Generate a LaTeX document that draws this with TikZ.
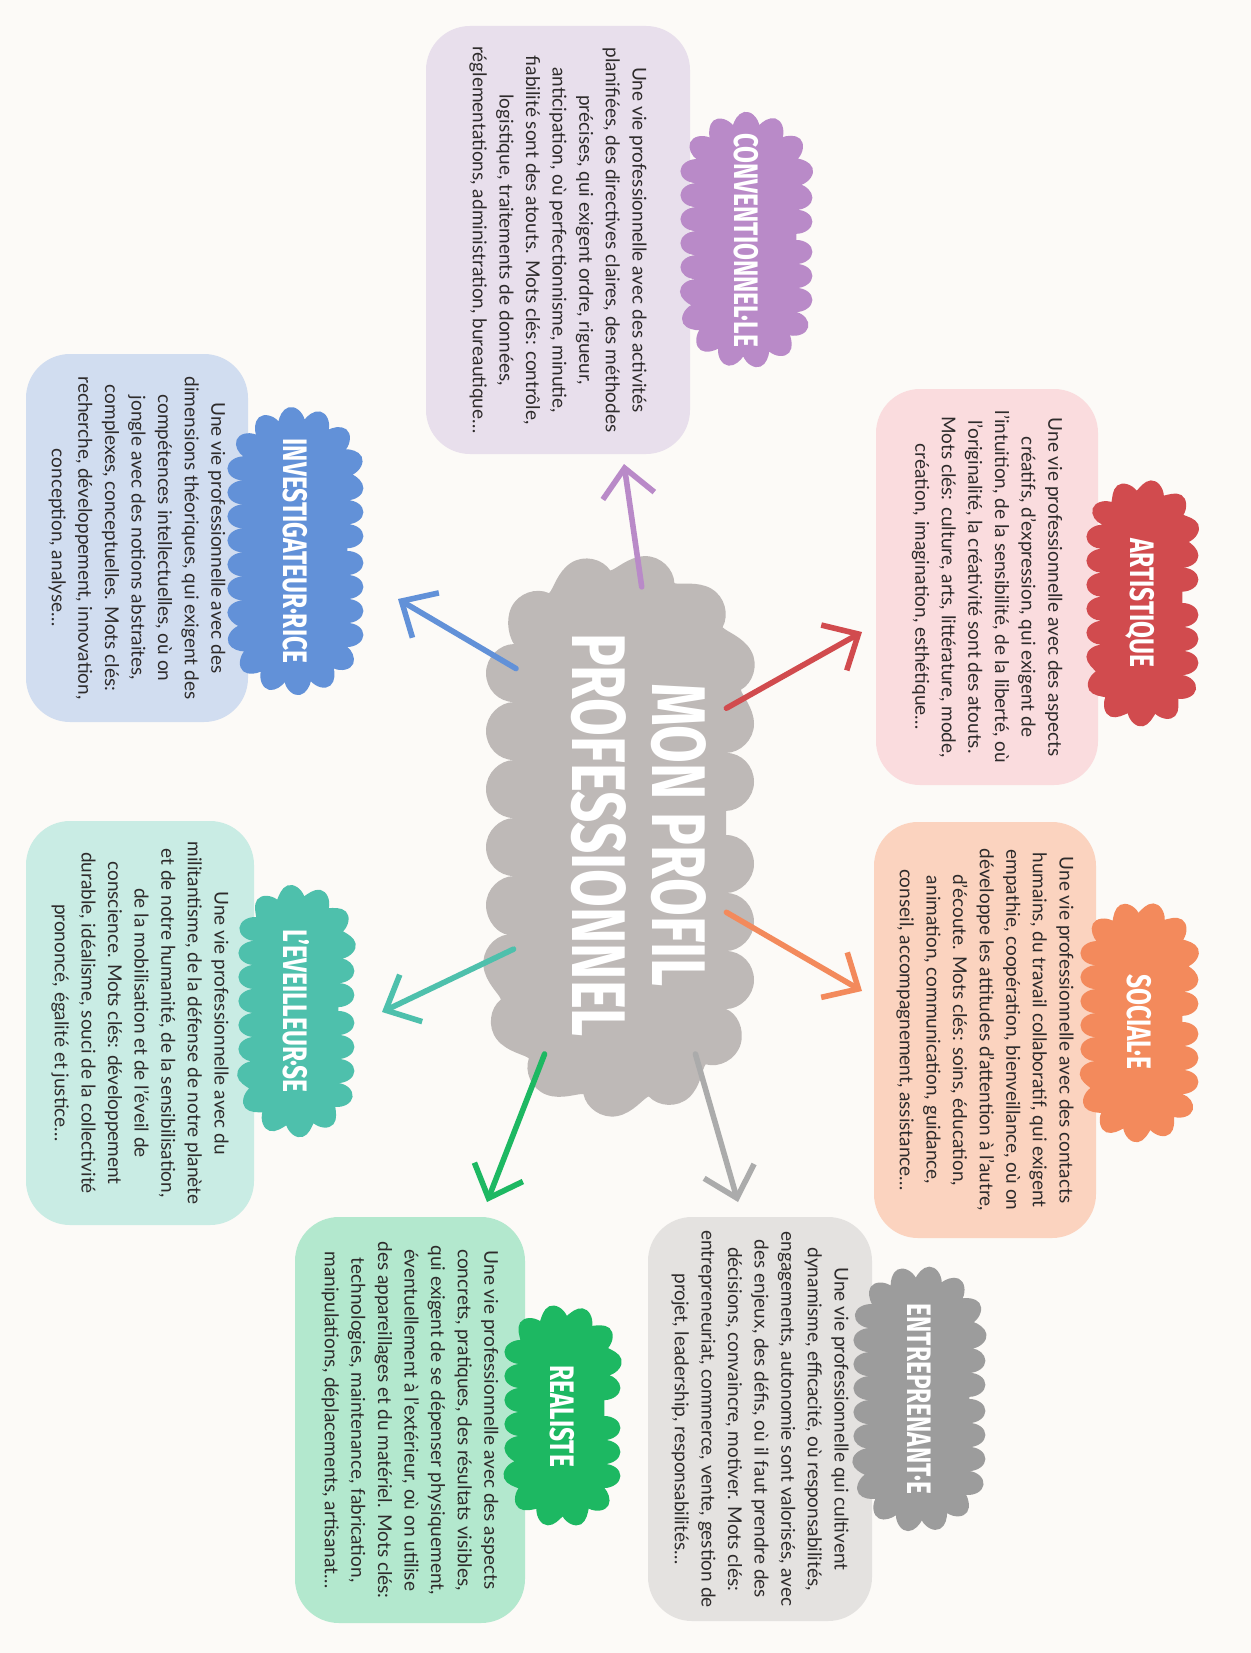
\documentclass[tikz,border=0pt]{standalone}
\usepackage{fontspec}
\setmainfont{Lato}
\newfontfamily\headfont[FakeStretch=0.72]{Fira Sans}
\usetikzlibrary{arrows.meta,calc,shapes.misc,decorations.pathmorphing}

\definecolor{paper}{HTML}{FCFAF7}
\definecolor{ink}{HTML}{2E2B2B}
\definecolor{midcol}{HTML}{BEB9B7}
\definecolor{convbg}{HTML}{E8DFEC}\definecolor{convcol}{HTML}{B98AC8}
\definecolor{artbg}{HTML}{FADCDE}\definecolor{artcol}{HTML}{D14B4E}
\definecolor{socbg}{HTML}{FBD3BF}\definecolor{soccol}{HTML}{F38A5C}
\definecolor{entbg}{HTML}{E4E2E0}\definecolor{entcol}{HTML}{9C9C9C}
\definecolor{realbg}{HTML}{B3E8CE}\definecolor{realcol}{HTML}{1DB862}
\definecolor{eveilbg}{HTML}{C9ECE4}\definecolor{eveilcol}{HTML}{4EC0AC}
\definecolor{invbg}{HTML}{D1DDF0}\definecolor{invcol}{HTML}{6291D8}

\newcommand{\tagtext}[1]{\smash{\makebox[0pt]{\raisebox{-.5\height}{#1}}}}

\tikzset{>={Straight Barb[length=14pt,width=26pt]}, arr/.style={->, line width=2.8pt, line cap=round, line join=round},
desc/.style={rounded corners=22pt, align=center, text=ink, inner sep=0pt, font=\fontsize{9.5}{13.3}\selectfont},
tag/.style={rounded rectangle, inner sep=1pt, text=white, decorate, decoration={bumps, segment length=24pt, amplitude=8pt},
  font=\headfont\bfseries\fontsize{17}{17}\selectfont}}

\begin{document}
\begin{tikzpicture}[x=0.5pt, y=0.5pt, rotate=-90, transform shape]
\useasboundingbox[fill=paper] (0,0) rectangle (1653,1251);

% description boxes
\node[desc, fill=convbg, minimum width=214pt, minimum height=132pt] (conv) at (240,558)
  {Une vie professionnelle avec des activités\\planifiées, des directives claires, des méthodes\\précises, qui exigent ordre, rigueur,\\anticipation, où perfectionnisme, minutie,\\fiabilité sont des atouts. Mots clés: contrôle,\\logistique, traitements de données,\\réglementations, administration, bureautique…};
\node[desc, fill=artbg, minimum width=198pt, minimum height=111pt] (art) at (587,987)
  {Une vie professionnelle avec des aspects\\créatifs, d’expression, qui exigent de\\l’intuition, de la sensibilité, de la liberté, où\\l’originalité, la créativité sont des atouts.\\Mots clés: culture, arts, littérature, mode,\\création, imagination, esthétique…};
\node[desc, fill=socbg, minimum width=208pt, minimum height=111pt] (soc) at (1030,985)
  {Une vie professionnelle avec des contacts\\humains, du travail collaboratif, qui exigent\\empathie, coopération, bienveillance, où on\\développe les attitudes d’attention à l’autre,\\d’écoute. Mots clés: soins, éducation,\\animation, communication, guidance,\\conseil, accompagnement, assistance…};
\node[desc, fill=entbg, minimum width=202pt, minimum height=112pt] (ent) at (1419,760)
  {Une vie professionnelle qui cultivent\\dynamisme, efficacité, où responsabilités,\\engagements, autonomie sont valorisés, avec\\des enjeux, des défis, où il faut prendre des\\décisions, convaincre, motiver. Mots clés:\\entrepreneuriat, commerce, vente, gestion de\\projet, leadership, responsabilités…};
\node[desc, fill=realbg, minimum width=203pt, minimum height=115pt] (real) at (1420,410)
  {Une vie professionnelle avec des aspects\\concrets, pratiques, des résultats visibles,\\qui exigent de se dépenser physiquement,\\éventuellement à l’extérieur, où on utilise\\des appareillages et du matériel. Mots clés:\\technologies, maintenance, fabrication,\\manipulations, déplacements, artisanat…};
\node[desc, fill=eveilbg, minimum width=202pt, minimum height=114pt] (eveil) at (1023,140)
  {Une vie professionnelle avec du\\militantisme, de la défense de notre planète\\et de notre humanité, de la sensibilisation,\\de la mobilisation et de l’éveil de\\conscience. Mots clés: développement\\durable, idéalisme, souci de la collectivité\\prononcé, égalité et justice…};
\node[desc, fill=invbg, minimum width=184pt, minimum height=111pt] (inv) at (538,137)
  {Une vie professionnelle avec des\\dimensions théoriques, qui exigent des\\compétences intellectuelles, où on\\jongle avec des notions abstraites,\\complexes, conceptuelles. Mots clés:\\recherche, développement, innovation,\\conception, analyse…};

% title clouds
\node[tag, fill=convcol, minimum width=113pt, minimum height=50pt] (convT) at ($(conv.north)+(0,56)$) {\tagtext{CONVENTIONNEL·LE}};
\node[tag, fill=artcol, minimum width=108pt, minimum height=40pt] (artT) at ($(art.north)+(16,44)$) {\tagtext{ARTISTIQUE}};
\node[tag, fill=soccol, minimum width=105pt, minimum height=43pt] (socT) at ($(soc.north)+(-8,43)$) {\tagtext{SOCIAL·E}};
\node[tag, fill=entcol, minimum width=118pt, minimum height=50pt] (entT) at ($(ent.north)+(-20,47)$) {\tagtext{ENTREPRENANT·E}};
\node[tag, fill=realcol, minimum width=96pt, minimum height=42pt] (realT) at ($(real.north)+(-4,37)$) {\tagtext{REALISTE}};
\node[tag, fill=eveilcol, minimum width=111pt, minimum height=42pt] (eveilT) at ($(eveil.north)+(-12,42)$) {\tagtext{L’EVEILLEUR·SE}};
\node[tag, fill=invcol, minimum width=129pt, minimum height=52pt] (invT) at ($(inv.north)+(13,47)$) {\tagtext{INVESTIGATEUR·RICE}};

% centre
\node[tag, decoration={bumps, segment length=58pt, amplitude=14pt},
  minimum width=252pt, minimum height=106pt, fill=midcol,
  font=\headfont\bfseries\fontsize{38}{40}\selectfont] (mid) at (835,620)
  {\smash{\makebox[0pt]{\raisebox{-24pt}{\begin{tabular}[b]{@{}c@{}}MON PROFIL\\PROFESSIONNEL\end{tabular}}}}};

% arrow tips
\coordinate (convTip) at (464,624);
\coordinate (artTip) at (632,862);
\coordinate (socTip) at (991,862);
\coordinate (entTip) at (1202,738);
\coordinate (realTip) at (1202,487);
\coordinate (eveilTip) at (1012,382);
\coordinate (invTip) at (599,398);

\draw[arr, convcol] (mid.175) -- (convTip);
\draw[arr, artcol] (mid.140) -- (artTip);
\draw[arr, soccol] (mid.54) -- (socTip);
\draw[arr, entcol!85] (mid.19) -- (entTip);
\draw[arr, realcol] (mid.341) -- (realTip);
\draw[arr, eveilcol] (mid.317) -- (eveilTip);
\draw[arr, invcol] (mid.212) -- (invTip);
\end{tikzpicture}
\end{document}
